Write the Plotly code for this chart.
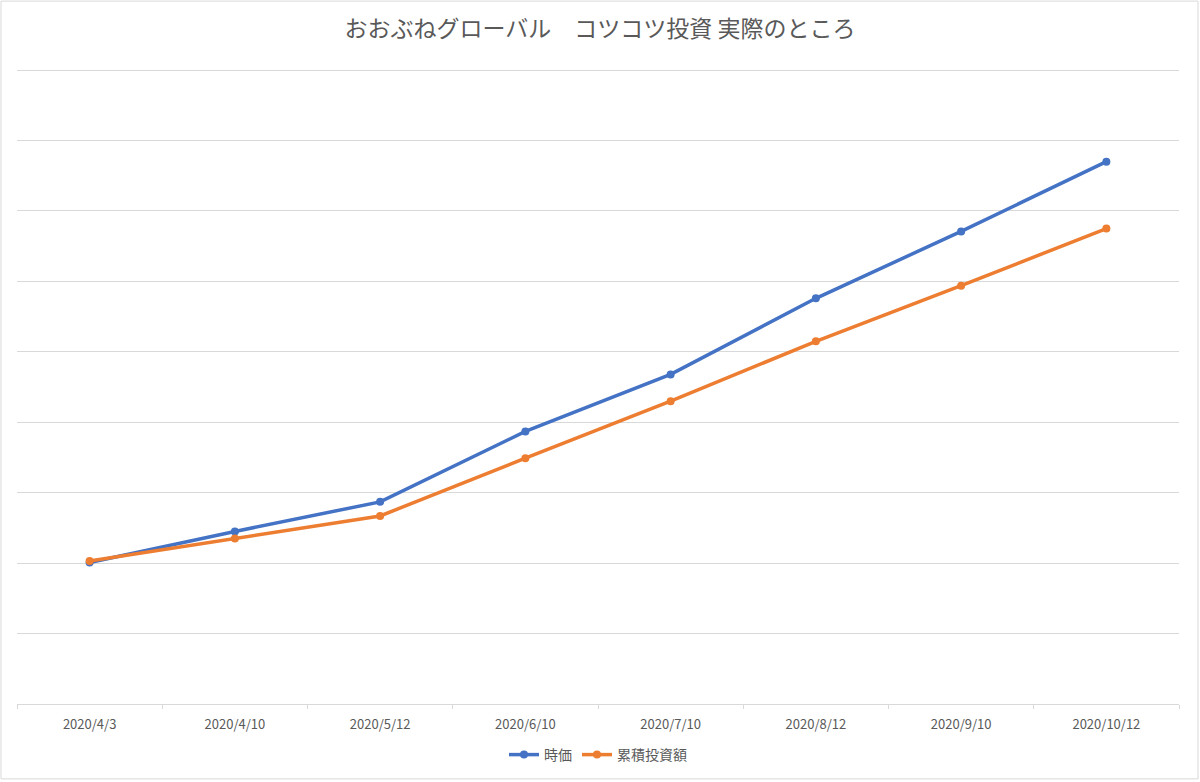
import plotly.graph_objects as go

dates = ["2020/4/3", "2020/4/10", "2020/5/12", "2020/6/10",
         "2020/7/10", "2020/8/12", "2020/9/10", "2020/10/12"]
market_value = [20100, 24500, 28700, 38700, 46800, 57600, 67100, 77000]
invested_total = [20300, 23500, 26700, 34900, 43000, 51500, 59400, 67500]

FONT = "Noto Sans CJK JP"
GRAY = "#595959"

fig = go.Figure()
fig.add_trace(go.Scatter(
    x=dates, y=market_value, name="時価", mode="lines+markers",
    line=dict(color="#4472C4", width=3.5), marker=dict(size=8, color="#4472C4")))
fig.add_trace(go.Scatter(
    x=dates, y=invested_total, name="累積投資額", mode="lines+markers",
    line=dict(color="#ED7D31", width=3.5), marker=dict(size=8, color="#ED7D31")))

L, R, T, B = 17, 21, 68, 77
W, H = 1200, 782
pw, ph = W - L - R, H - T - B

fig.update_layout(
    width=W, height=H,
    margin=dict(l=L, r=R, t=T, b=B),
    paper_bgcolor="white", plot_bgcolor="white",
    title=dict(text="おおぶねグローバル　コツコツ投資 実際のところ", x=0.5, xanchor="center",
               y=1 - 29 / H, yanchor="middle",
               font=dict(family=FONT, size=23, color=GRAY)),
    font=dict(family=FONT, color=GRAY),
    showlegend=True,
    legend=dict(orientation="h", x=0.5, xanchor="center", y=-50 / ph, yanchor="middle",
                font=dict(family=FONT, size=14, color=GRAY), itemwidth=30),
    xaxis=dict(type="category", range=[-0.5, 7.5], showgrid=False,
               showline=True, linecolor="#d9d9d9", linewidth=1,
               ticks="outside", tickson="boundaries", ticklen=4, tickcolor="#d9d9d9",
               ticklabelstandoff=8,
               tickfont=dict(family=FONT, size=13, color=GRAY), fixedrange=True),
    yaxis=dict(range=[0, 90300], dtick=10000, showgrid=True, gridcolor="#d9d9d9",
               gridwidth=1, showticklabels=False, zeroline=False, showline=False,
               fixedrange=True),
    shapes=[dict(type="rect", xref="paper", yref="paper",
                 x0=(-L + 1) / pw, x1=(pw + R - 2) / pw,
                 y0=(-B + 2) / ph, y1=(ph + T - 1) / ph,
                 line=dict(color="#d9d9d9", width=1), layer="below")],
)

fig.write_html("out.html", config={"displayModeBar": False},
               post_script="document.body.style.margin='0';document.body.style.overflow='hidden';")
